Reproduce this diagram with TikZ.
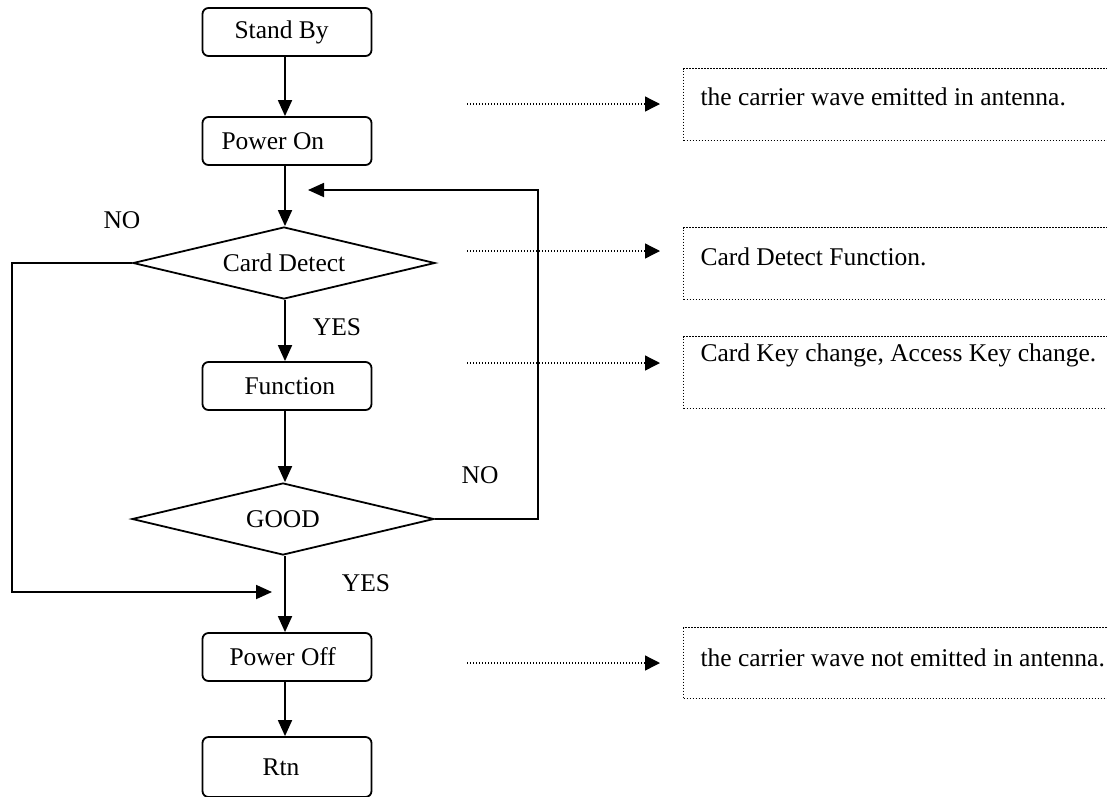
\documentclass[tikz,border=0pt]{standalone}
\usepackage{fontspec}
\setmainfont{Liberation Serif}
\usetikzlibrary{arrows.meta,shapes.geometric}

\newcommand{\intext}[2]{\makebox[169pt][l]{\hspace{#1pt}#2}}

\tikzset{
    stepbox/.style={draw, line width=1.8pt, rounded corners=6pt, minimum width=169pt, minimum height=48pt, inner sep=0pt},
    decide/.style={draw, line width=1.8pt, diamond, aspect=4.2, minimum width=302pt, minimum height=72pt, inner sep=0pt},
    note/.style={draw, line width=1.3pt, dash pattern=on 1.4pt off 1.6pt, minimum width=440pt, minimum height=72pt, anchor=north west, inner sep=0pt},
    flow/.style={line width=1.8pt, -{Triangle[length=16pt,width=14pt]}},
    hint/.style={line width=1.3pt, dash pattern=on 1.4pt off 1.6pt, -{Triangle[length=15pt,width=15pt]}}
}

\begin{document}
\begin{tikzpicture}[x=1pt, y=-1pt, font=\fontsize{25.5}{30}\selectfont]
    \clip (0,0) rectangle (1107,796);
    % main chart
    \node[stepbox] (standby) at (287,32) {\intext{32}{Stand By}};
    \node[stepbox] (poweron) at (287,141) {\intext{19}{Power On}};
    \node[decide] (detect) at (284,263) {Card Detect};
    \node[stepbox] (func) at (287,386) {\intext{42}{Function}};
    \node[decide] (good) at (283,519) {GOOD};
    \node[stepbox] (poweroff) at (287,657) {\intext{27}{Power Off}};
    \node[stepbox, minimum height=60pt] (rtn) at (287,767) {\intext{60}{Rtn}};
    \node (no1) at (122,220) {NO};
    \node (yes1) at (337,327) {YES};
    \node (no2) at (480,475) {NO};
    \node (yes2) at (366,583) {YES};
    \draw[flow] (standby.south -| 285,0) -- (poweron.north -| 285,0);
    \draw[flow] (poweron.south -| 285,0) -- (detect.north -| 285,0);
    \draw[flow] (detect.south -| 285,0) -- (func.north -| 285,0);
    \draw[flow] (func.south -| 285,0) -- (good.north -| 285,0);
    \draw[flow] (good.south -| 285,0) -- (poweroff.north -| 285,0);
    \draw[flow] (poweroff.south -| 285,0) -- (rtn.north -| 285,0);
    \coordinate (loopin) at (308,190);
    \coordinate (skipin) at (272,592);
    \draw[flow] (good.east) -- (538,519) -- (538,190) -- (loopin);
    \draw[flow] (detect.west) -- (12,263) -- (12,592) -- (skipin);
    % notes on the right
    \node[note] (n1) at (683,68) {};
    \node[note] (n2) at (683,227) {};
    \node[note] (n3) at (683,336) {};
    \node[note, minimum height=71pt] (n4) at (683,627) {};
    \node[anchor=west] (t1) at (697,97) {the carrier wave emitted in antenna.};
    \node[anchor=west] (t2) at (697,257) {Card Detect Function.};
    \node[anchor=west] (t3) at (697,355) {Card Key change, Access Key change.};
    \node[anchor=west] (t4) at (697,658) {the carrier wave not emitted in antenna.};
    \coordinate (h1) at (467,104);
    \coordinate (h2) at (467,251);
    \coordinate (h3) at (467,363);
    \coordinate (h4) at (467,663);
    \draw[hint] (h1) -- (h1 -| 660,0);
    \draw[hint] (h2) -- (h2 -| 660,0);
    \draw[hint] (h3) -- (h3 -| 660,0);
    \draw[hint] (h4) -- (h4 -| 660,0);
\end{tikzpicture}
\end{document}
